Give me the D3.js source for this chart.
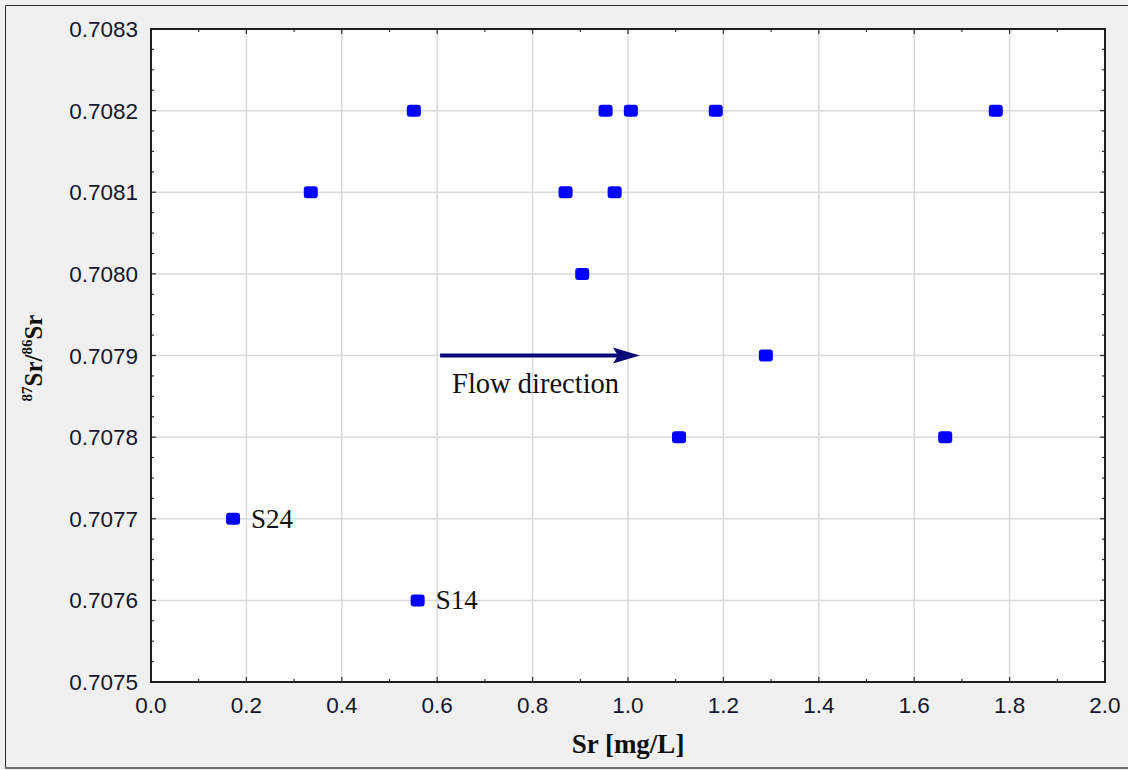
<!DOCTYPE html>
<html>
<head>
<meta charset="utf-8">
<script src="https://cdn.jsdelivr.net/npm/d3@7"></script>
<style>
  html, body { margin: 0; padding: 0; background: #f0f0f0; }
  svg { display: block; }
</style>
</head>
<body>
<svg id="chart" width="1128" height="770"></svg>
<script>
// Sr concentration (mg/L) and 87Sr/86Sr ratio for each sample
const srConc  = [0.551, 0.953, 1.006, 1.184, 1.771, 0.335, 0.869, 0.972, 0.904, 1.289, 1.107, 1.665, 0.172, 0.559];
const srRatio = [0.7082, 0.7082, 0.7082, 0.7082, 0.7082, 0.7081, 0.7081, 0.7081, 0.7080, 0.7079, 0.7078, 0.7078, 0.7077, 0.7076];
const sampleLabels = ["", "", "", "", "", "", "", "", "", "", "", "", "S24", "S14"];

const xTicks = [0.0, 0.2, 0.4, 0.6, 0.8, 1.0, 1.2, 1.4, 1.6, 1.8, 2.0];
const yTicks = [0.7075, 0.7076, 0.7077, 0.7078, 0.7079, 0.7080, 0.7081, 0.7082, 0.7083];

// flow direction arrow, in data units
const arrowFrom = [0.606, 0.7079];
const arrowTo   = [1.025, 0.7079];
const arrowText = "Flow direction";

const svg = d3.select("#chart");
const W = 1128, H = 770;
const plot = { left: 151, right: 1105, top: 29, bottom: 682 };

// outer frame
svg.append("rect").attr("x", 0).attr("y", 0).attr("width", W).attr("height", H).attr("fill", "#f0f0f0");
svg.append("line").attr("x1", 5.5).attr("x2", W).attr("y1", 5.5).attr("y2", 5.5).attr("stroke", "#2a2a2a").attr("stroke-width", 1);
svg.append("line").attr("x1", 5.5).attr("x2", 5.5).attr("y1", 5.5).attr("y2", 768).attr("stroke", "#2a2a2a").attr("stroke-width", 1);
svg.append("line").attr("x1", 5).attr("x2", W).attr("y1", 768).attr("y2", 768).attr("stroke", "#6e6e6e").attr("stroke-width", 2);

const x = d3.scaleLinear().domain([0, 2]).range([plot.left, plot.right]);
const y = d3.scaleLinear().domain([0.7075, 0.7083]).range([plot.bottom, plot.top]);

// plot background
svg.append("rect")
  .attr("x", plot.left).attr("y", plot.top)
  .attr("width", plot.right - plot.left).attr("height", plot.bottom - plot.top)
  .attr("fill", "#ffffff");

// grid
const grid = svg.append("g").attr("stroke", "#dadada").attr("stroke-width", 1.5);
grid.selectAll(".gx").data(xTicks.slice(1, -1)).join("line")
  .attr("x1", d => x(d)).attr("x2", d => x(d))
  .attr("y1", plot.top).attr("y2", plot.bottom);
grid.selectAll(".gy").data(yTicks.slice(1, -1)).join("line")
  .attr("x1", plot.left).attr("x2", plot.right)
  .attr("y1", d => y(d)).attr("y2", d => y(d));

// inward ticks on all four sides (major + minor)
const xMinor = d3.range(0, 20).map(i => i * 0.1 + 0.1).filter(v => Math.abs(Math.round(v * 5) - v * 5) > 1e-6);
const yMinor = d3.range(1, 32).map(i => 0.7075 + i * 0.000025).filter((v, i) => (i + 1) % 4 !== 0);

const tickG = svg.append("g").attr("stroke", "#333").attr("stroke-width", 1.2);
function vTicks(vals, len) {
  tickG.append("g").selectAll("line").data(vals).join("line")
    .attr("x1", d => x(d)).attr("x2", d => x(d))
    .attr("y1", plot.bottom).attr("y2", plot.bottom - len);
  tickG.append("g").selectAll("line").data(vals).join("line")
    .attr("x1", d => x(d)).attr("x2", d => x(d))
    .attr("y1", plot.top).attr("y2", plot.top + len);
}
function hTicks(vals, len) {
  tickG.append("g").selectAll("line").data(vals).join("line")
    .attr("y1", d => y(d)).attr("y2", d => y(d))
    .attr("x1", plot.left).attr("x2", plot.left + len);
  tickG.append("g").selectAll("line").data(vals).join("line")
    .attr("y1", d => y(d)).attr("y2", d => y(d))
    .attr("x1", plot.right).attr("x2", plot.right - len);
}
vTicks(xTicks.slice(1, -1), 5);
vTicks(xMinor, 3);
hTicks(yTicks.slice(1, -1), 5);
hTicks(yMinor, 3);

// plot border
svg.append("rect")
  .attr("x", plot.left).attr("y", plot.top)
  .attr("width", plot.right - plot.left).attr("height", plot.bottom - plot.top)
  .attr("fill", "none").attr("stroke", "#1e1e1e").attr("stroke-width", 2);

// tick labels
const tickFont = "'Liberation Sans', Arial, sans-serif";
svg.append("g").selectAll("text").data(xTicks).join("text")
  .attr("x", d => x(d)).attr("y", 712.5)
  .attr("text-anchor", "middle")
  .attr("font-family", tickFont).attr("font-size", 22.5).attr("fill", "#15152e")
  .text(d => d3.format(".1f")(d));
svg.append("g").selectAll("text").data(yTicks).join("text")
  .attr("x", 138).attr("y", d => y(d) + 8)
  .attr("text-anchor", "end")
  .attr("font-family", tickFont).attr("font-size", 22.5).attr("fill", "#15152e")
  .text(d => d3.format(".4f")(d));

// axis titles
const serif = "'Liberation Serif', 'Times New Roman', serif";
svg.append("text")
  .attr("x", (plot.left + plot.right) / 2).attr("y", 753)
  .attr("text-anchor", "middle")
  .attr("font-family", serif).attr("font-weight", "bold").attr("font-size", 27).attr("fill", "#111")
  .text("Sr [mg/L]");

const yTitle = svg.append("text")
  .attr("transform", "translate(42,358) rotate(-90)")
  .attr("text-anchor", "middle")
  .attr("font-family", serif).attr("font-weight", "bold").attr("font-size", 25).attr("fill", "#111");
yTitle.append("tspan").attr("font-size", 15).attr("dy", -10).text("87");
yTitle.append("tspan").attr("dy", 10).text("Sr/");
yTitle.append("tspan").attr("font-size", 15).attr("dy", -10).text("86");
yTitle.append("tspan").attr("dy", 10).text("Sr");

// arrow
const ax0 = x(arrowFrom[0]), ay0 = y(arrowFrom[1]);
const ax1 = x(arrowTo[0]), ay1 = y(arrowTo[1]);
const arrowColor = "#0a0a78";
svg.append("line")
  .attr("x1", ax0).attr("y1", ay0).attr("x2", ax1 - 20).attr("y2", ay1)
  .attr("stroke", arrowColor).attr("stroke-width", 4);
svg.append("path")
  .attr("d", `M${ax1},${ay1} L${ax1 - 27},${ay1 - 8} L${ax1 - 22},${ay1} L${ax1 - 27},${ay1 + 8} Z`)
  .attr("fill", arrowColor);
svg.append("text")
  .attr("x", ax0 + 12).attr("y", ay0 + 37)
  .attr("font-family", serif).attr("font-size", 28.5).attr("fill", "#111")
  .text(arrowText);

// sample points
const pts = srConc.map((c, i) => ({ c, r: srRatio[i], label: sampleLabels[i] }));
svg.append("g").selectAll("rect").data(pts).join("rect")
  .attr("x", d => x(d.c) - 7).attr("y", d => y(d.r) - 6)
  .attr("width", 14).attr("height", 12).attr("rx", 3).attr("ry", 3)
  .attr("fill", "#0000ff");

svg.append("g").selectAll("text").data(pts.filter(d => d.label)).join("text")
  .attr("x", d => x(d.c) + 18).attr("y", d => y(d.r) + 9)
  .attr("font-family", serif).attr("font-size", 27).attr("fill", "#111")
  .text(d => d.label);
</script>
</body>
</html>
